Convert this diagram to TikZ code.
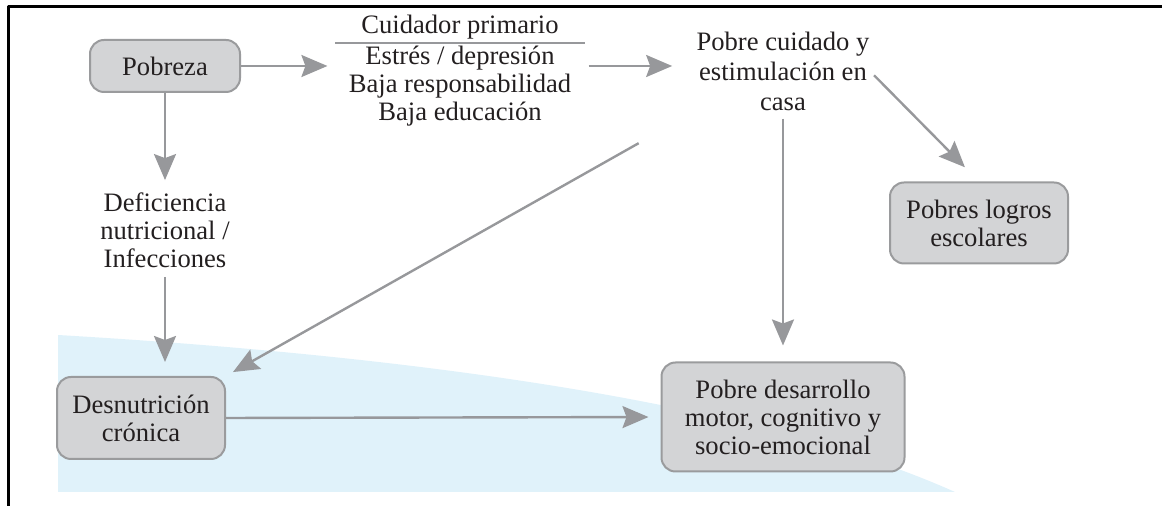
\documentclass[tikz,border=0pt]{standalone}
\usepackage{fontspec}
\setmainfont{Liberation Serif}
\usetikzlibrary{arrows.meta}
\definecolor{gflecha}{HTML}{97989B}
\definecolor{gcaja}{HTML}{D3D4D6}
\definecolor{gborde}{HTML}{9A9B9D}
\definecolor{celeste}{HTML}{E0F2FA}
\definecolor{tinta}{HTML}{231F20}
\tikzset{
	caja/.style={draw=gborde, fill=gcaja, line width=1pt, rounded corners=7pt, align=center, text=tinta, inner sep=0pt},
	etiqueta/.style={align=center, text=tinta, inner sep=0pt},
	flecha/.style={draw=gflecha, line width=1.2pt, -{Stealth[length=13pt,width=11pt,inset=2pt]}},
}
\begin{document}
\begin{tikzpicture}[x=0.5pt, y=-0.5pt, font=\fontsize{13.3}{14}\selectfont, line join=round]
	\useasboundingbox (0,0) rectangle (1162,506);
	% fondo celeste
	\fill[celeste] (58,335) .. controls (400,355) and (750,400) .. (955,492) -- (58,492) -- cycle;
	% marco
	\draw[line width=1.5pt, line cap=rect] (8,506) -- (8,7) -- (1162,7);
	
	\node[caja, minimum width=75pt, minimum height=26pt] (pobreza) at (165,66) {Pobreza};
	\node[etiqueta] (cabecera) at (460,27) {Cuidador primario};
	\node[etiqueta] (cuid) at (460,86) {Estrés / depresión\\Baja responsabilidad\\Baja educación};
	\node[etiqueta, font=\fontsize{13.3}{15}\selectfont] (cuidado) at (783,71) {Pobre cuidado y\\estimulación en\\casa};
	\node[etiqueta] (deficiencia) at (165,230) {Deficiencia\\nutricional /\\Infecciones};
	\node[caja, minimum width=84pt, minimum height=41pt] (desnutricion) at (141,418) {Desnutrición\\crónica};
	\node[caja, minimum width=89pt, minimum height=40.5pt] (logros) at (979,223) {Pobres logros\\escolares};
	\node[caja, minimum width=121.5pt, minimum height=54.5pt] (desarrollo) at (783,417) {Pobre desarrollo\\motor, cognitivo y\\socio-emocional};
	
	\draw[gflecha, line width=1.2pt] (335,43) -- (585,43);
	
	\draw[flecha, shorten >=10.5pt] (pobreza.east) -- (cuid.west |- pobreza.east);
	\draw[flecha, shorten <=8.5pt, shorten >=12pt] (cuid.east |- pobreza.east) -- (cuidado.west |- pobreza.east);
	\draw[flecha, shorten >=6pt] (pobreza.south) -- (deficiencia.north);
	\draw[flecha, shorten <=4.5pt, shorten >=7pt] (deficiencia.south) -- (deficiencia.south |- desnutricion.north);
	\draw[flecha, shorten <=33pt, shorten >=4pt] (cuidado.south west) -- (desnutricion.north east);
	\draw[flecha, shorten <=4pt, shorten >=8pt] (cuidado.south) -- (desarrollo.north);
	\draw[flecha, shorten <=3pt, shorten >=10pt] (cuidado.east) -- (logros.north);
	\draw[flecha, shorten >=6pt] (desnutricion.east) -- (desarrollo.west);
\end{tikzpicture}
\end{document}
